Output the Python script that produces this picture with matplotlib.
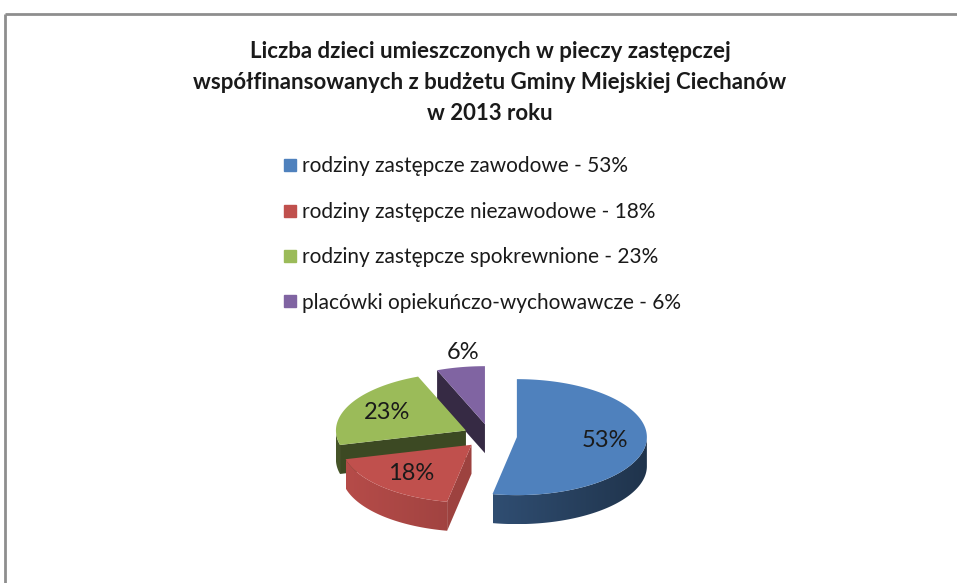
import numpy as np
import matplotlib.pyplot as plt
from matplotlib.patches import Polygon
from matplotlib.lines import Line2D
import matplotlib.colors as mc

plt.rcParams['font.family'] = ['Lato', 'DejaVu Sans']

labels = ['rodziny zastępcze zawodowe', 'rodziny zastępcze niezawodowe',
          'rodziny zastępcze spokrewnione', 'placówki opiekuńczo-wychowawcze']
shares = [53, 18, 23, 6]
colors = ['#4F81BD', '#C0504D', '#9BBB59', '#8064A2']
title = ('Liczba dzieci umieszczonych w pieczy zastępczej\n'
         'współfinansowanych z budżetu Gminy Miejskiej Ciechanów\n'
         'w 2013 roku')

# look of the fake 3d pie (pixel units)
cx, cy = 490, 436
rx, ry = 130, 58
depth = 29
expl = 27
cut_shade = [0.6, 0.82, 0.39, 0.42]
wall_shade = [(0.74, 0.40), (0.95, 0.68), (0.45, 0.39), (0.5, 0.4)]
order = [3, 2, 0, 1]


def shade(c, f):
    r, g, b = mc.to_rgb(c)
    return (r * f, g * f, b * f)


def rim(t, ox, oy, dz=0.0):
    t = np.radians(t)
    return ox + rx * np.cos(t), oy - ry * np.sin(t) + dz


fig = plt.figure(figsize=(9.57, 5.83), dpi=100)
ax = fig.add_axes([0, 0, 1, 1])
ax.axis('off')

# frame of the chart area
ax.plot([5, 957], [14, 14], color='#8e8e8e', lw=2, solid_capstyle='butt')
ax.plot([5, 5], [14, 583], color='#8e8e8e', lw=2, solid_capstyle='butt')

bounds = 90 - 360 * np.concatenate([[0], np.cumsum(shares)]) / sum(shares)

for i in order:
    a, b = bounds[i + 1], bounds[i]
    m = (a + b) / 2
    ox = cx + expl * np.cos(np.radians(m))
    oy = cy - expl * (ry / rx) * np.sin(np.radians(m))
    col = colors[i]

    # outer curved wall (front half only), shaded left to right
    ts = np.linspace(a, b, 240)
    ts = ts[np.sin(np.radians(ts)) < 0]
    if len(ts) > 1:
        xt, yt = rim(ts, ox, oy)
        wall = Polygon(list(zip(xt, yt)) + list(zip(xt[::-1], yt[::-1] + depth)),
                       closed=True, fc='none', ec='none')
        ax.add_patch(wall)
        l, r = wall_shade[i]
        xs = np.linspace(xt.min(), xt.max(), 200)
        cosv = np.clip((xs - ox) / rx, -1, 1)
        f = r + (l - r) * (1 - cosv) / 2
        img = np.array([[shade(col, v) for v in f]])
        im = ax.imshow(img, extent=[xt.min(), xt.max(), yt.max() + depth, yt.min()],
                       aspect='auto', interpolation='bilinear', zorder=1)
        im.set_clip_path(wall)

    # radial cut faces
    for e, vis in ((a, np.cos(np.radians(a)) > 0.01), (b, np.cos(np.radians(b)) < -0.01)):
        if vis:
            x1, y1 = rim(e, ox, oy)
            ax.add_patch(Polygon([(ox, oy), (x1, y1), (x1, y1 + depth), (ox, oy + depth)],
                                 closed=True, fc=shade(col, cut_shade[i]), ec='none', zorder=1))

    # top face
    tt = np.linspace(a, b, 200)
    xs, ys = rim(tt, ox, oy)
    ax.add_patch(Polygon([(ox, oy)] + list(zip(xs, ys)), closed=True, fc=col, ec='none', zorder=1))

    # data label
    if shares[i] >= 10:
        lx = ox + 0.68 * rx * np.cos(np.radians(m))
        ly = oy - 0.68 * ry * np.sin(np.radians(m))
        ax.text(lx, ly, f'{shares[i]}%', ha='center', va='center', fontsize=17,
                color='#1a1a1a', zorder=3)
    else:
        lx, ly = rim(m, ox, oy)
        ax.text(lx + 2, ly - 4, f'{shares[i]}%', ha='center', va='bottom', fontsize=17,
                color='#1a1a1a', zorder=3)

ax.set_xlim(0, 957)
ax.set_ylim(583, 0)

ax.text(490, 41, title, ha='center', va='top', fontsize=16, fontweight='bold',
        color='#1a1a1a', linespacing=1.6)

handles = [Line2D([], [], marker='s', ls='none', markersize=8, color=c) for c in colors]
leg_labels = [f'{lab} - {s}%' for lab, s in zip(labels, shares)]
ax.legend(handles, leg_labels, loc='upper left', bbox_to_anchor=(273, 146),
          bbox_transform=ax.transData, frameon=False, fontsize=15,
          handlelength=0.6, handletextpad=0.3, labelspacing=1.22,
          borderpad=0, labelcolor='#1a1a1a')

fig.savefig('out.png', dpi=100)
